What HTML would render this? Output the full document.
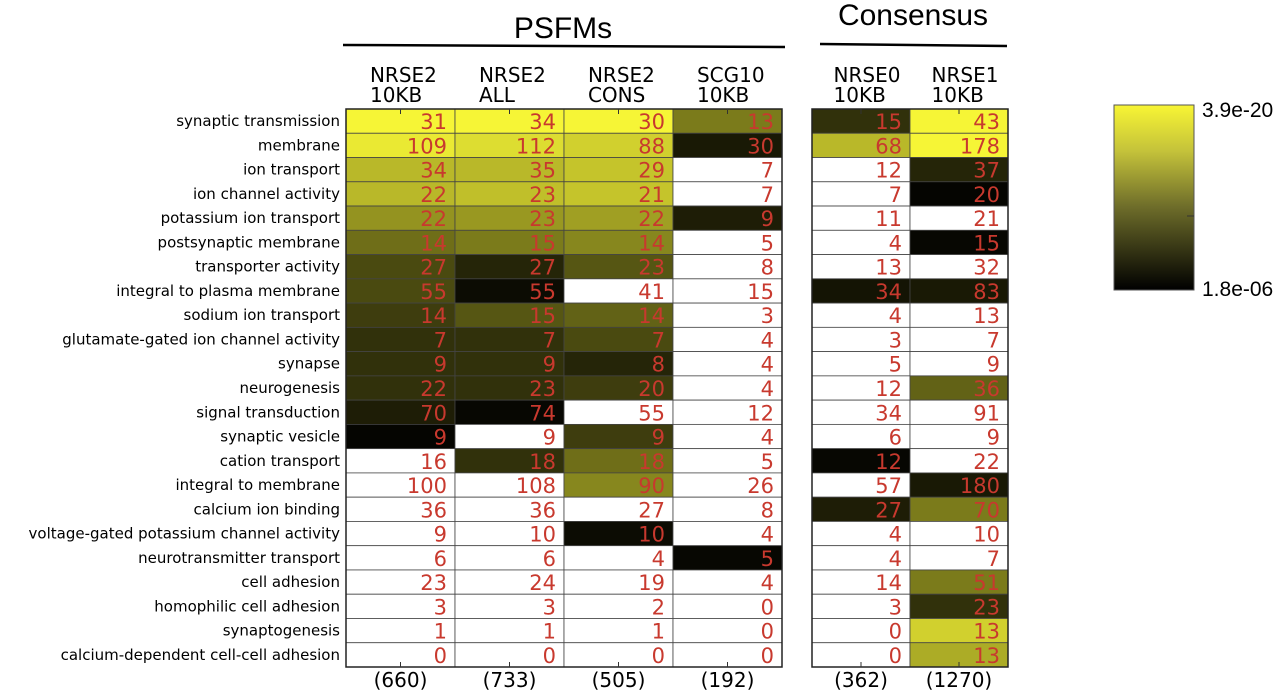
<!DOCTYPE html>
<html><head><meta charset="utf-8"><style>
body{margin:0;background:#fff;}
svg{display:block;font-family:"DejaVu Sans","Liberation Sans",sans-serif;}
</style></head><body>
<svg id="chart" width="1280" height="692">
<text x="563" y="38" font-size="30" text-anchor="middle" font-family="Liberation Sans">PSFMs</text>
<line x1="343" y1="45" x2="785" y2="47" stroke="#000" stroke-width="2.5"/>
<text x="913" y="25" font-size="30" text-anchor="middle" font-family="Liberation Sans">Consensus</text>
<line x1="820" y1="44" x2="1007" y2="46" stroke="#000" stroke-width="2.5"/>
<g id="rows"></g>
<g id="left"></g>
<g id="right"></g>
<defs><linearGradient id="cb" x1="0" y1="1" x2="0" y2="0"><stop offset="0" stop-color="#000"/><stop offset="0.45" stop-color="#6e6d2a"/><stop offset="0.75" stop-color="#c4c23a"/><stop offset="1" stop-color="#f8f534"/></linearGradient></defs>
<rect x="1114" y="105" width="80" height="185" fill="url(#cb)" stroke="#555" stroke-width="1"/>
<line x1="1187" y1="216" x2="1194" y2="216" stroke="#333"/>
<text x="1202" y="117" font-size="21" font-family="Liberation Sans">3.9e-20</text>
<text x="1202" y="296" font-size="21" font-family="Liberation Sans">1.8e-06</text>
</svg>
<script>
const terms=["synaptic transmission","membrane","ion transport","ion channel activity","potassium ion transport","postsynaptic membrane","transporter activity","integral to plasma membrane","sodium ion transport","glutamate-gated ion channel activity","synapse","neurogenesis","signal transduction","synaptic vesicle","cation transport","integral to membrane","calcium ion binding","voltage-gated potassium channel activity","neurotransmitter transport","cell adhesion","homophilic cell adhesion","synaptogenesis","calcium-dependent cell-cell adhesion"];
const leftCols=[["NRSE2","10KB"],["NRSE2","ALL"],["NRSE2","CONS"],["SCG10","10KB"]];
const leftTotals=["(660)","(733)","(505)","(192)"];
const leftCounts=[[31,34,30,13],[109,112,88,30],[34,35,29,7],[22,23,21,7],[22,23,22,9],[14,15,14,5],[27,27,23,8],[55,55,41,15],[14,15,14,3],[7,7,7,4],[9,9,8,4],[22,23,20,4],[70,74,55,12],[9,9,9,4],[16,18,18,5],[100,108,90,26],[36,36,27,8],[9,10,10,4],[6,6,4,5],[23,24,19,4],[3,3,2,0],[1,1,1,0],[0,0,0,0]];
const leftSig=[[1,1,1,0.5],[0.95,0.9,0.85,0.1],[0.75,0.75,0.8,null],[0.75,0.78,0.8,null],[0.6,0.62,0.65,0.12],[0.45,0.5,0.55,null],[0.3,0.15,0.35,null],[0.3,0.05,null,null],[0.25,0.35,0.4,null],[0.2,0.2,0.3,null],[0.2,0.2,0.15,null],[0.2,0.2,0.25,null],[0.12,0.03,null,null],[0.02,null,0.25,null],[null,0.2,0.45,null],[null,null,0.55,null],[null,null,null,null],[null,null,0.05,null],[null,null,null,0.03],[null,null,null,null],[null,null,null,null],[null,null,null,null],[null,null,null,null]];
const rightCols=[["NRSE0","10KB"],["NRSE1","10KB"]];
const rightTotals=["(362)","(1270)"];
const rightCounts=[[15,43],[68,178],[12,37],[7,20],[11,21],[4,15],[13,32],[34,83],[4,13],[3,7],[5,9],[12,36],[34,91],[6,9],[12,22],[57,180],[27,70],[4,10],[4,7],[14,51],[3,23],[0,13],[0,13]];
const rightSig=[[0.2,1],[0.75,1],[null,0.15],[null,0.02],[null,null],[null,0.03],[null,null],[0.08,0.1],[null,null],[null,null],[null,null],[null,0.4],[null,null],[null,null],[0.03,null],[null,0.1],[0.12,0.5],[null,null],[null,null],[null,0.5],[null,0.2],[null,0.85],[null,0.7]];

const NS="http://www.w3.org/2000/svg";
const top0=109,bottom0=667,rowH=(bottom0-top0)/terms.length;
const yRow=i=>top0+i*rowH;
function mk(tag,attrs,parent,txt){const e=document.createElementNS(NS,tag);for(const k in attrs)e.setAttribute(k,attrs[k]);if(txt!==undefined)e.textContent=txt;parent.appendChild(e);return e;}
function color(t){if(t===null)return "#ffffff";const r=Math.round(246*t),g=Math.round(245*t),b=Math.round(54*t);return `rgb(${r},${g},${b})`;}
const rowsG=document.getElementById('rows');
terms.forEach((t,i)=>{const e=mk('text',{x:340,y:yRow(i)+rowH/2+5,'font-size':15,'text-anchor':'end'},rowsG,t);

});
function panel(gid,x0,x1,cols,totals,counts,sig,prefix){
 const g=document.getElementById(gid);const cw=(x1-x0)/cols.length;const xCol=j=>x0+j*cw;
 cols.forEach((c,j)=>{
  const h1=mk('text',{x:xCol(j)+cw*0.22,y:82,'font-size':20},g,c[0]);
  
  
  const h2=mk('text',{x:xCol(j)+cw*0.22,y:102,'font-size':20},g,c[1]);
  
  
  const tt=mk('text',{x:xCol(j)+cw/2,y:687,'font-size':20,'text-anchor':'middle'},g,totals[j]);
  
  
 });
 counts.forEach((row,i)=>row.forEach((v,j)=>{
  const r=mk('rect',{x:xCol(j),y:yRow(i),width:cw,height:rowH,fill:color(sig[i][j]),stroke:'#444','stroke-width':0.8},g);
  
  
  const tx=mk('text',{x:xCol(j)+cw-8,y:yRow(i)+rowH/2+8,'font-size':21,'text-anchor':'end',fill:'#c8392e'},g,v);
  
  
 }));
 const fr=mk('rect',{x:x0,y:top0,width:x1-x0,height:bottom0-top0,fill:'none',stroke:'#222','stroke-width':1.5},g);
 
 
 cols.forEach((c,j)=>{mk('line',{x1:xCol(j)+cw/2,y1:bottom0,x2:xCol(j)+cw/2,y2:bottom0-5,stroke:'#333'},g);mk('line',{x1:xCol(j)+cw/2,y1:top0,x2:xCol(j)+cw/2,y2:top0+5,stroke:'#333'},g);});
}
panel('left',346,782,leftCols,leftTotals,leftCounts,leftSig,'psfm');
panel('right',812,1008,rightCols,rightTotals,rightCounts,rightSig,'consensus');
</script>
</body></html>
